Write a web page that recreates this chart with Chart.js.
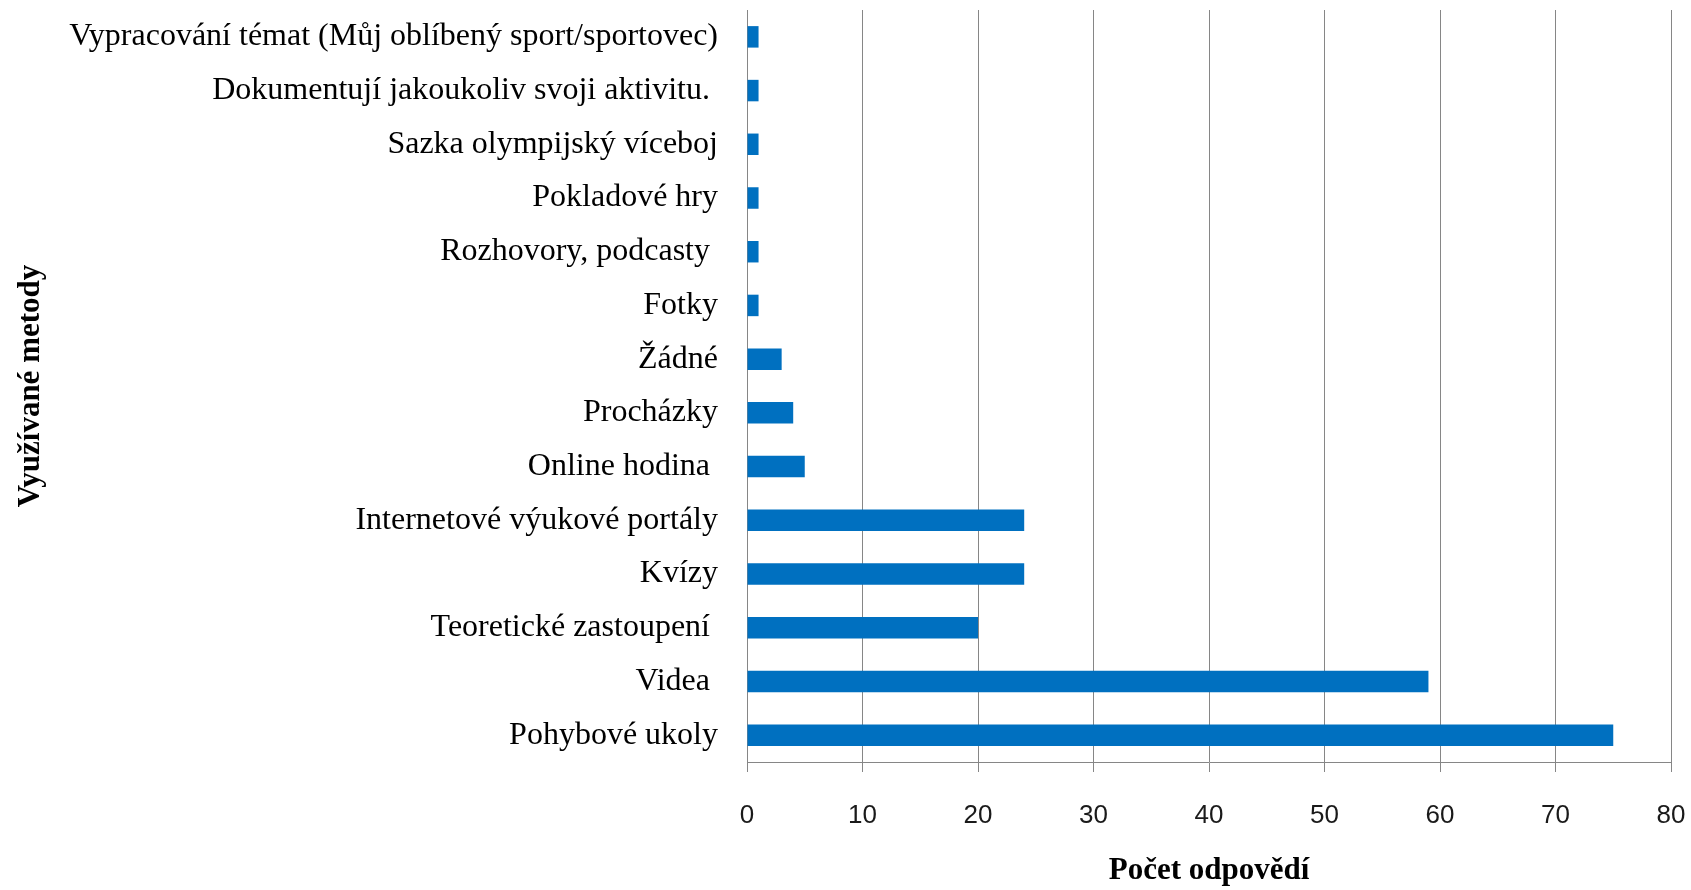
<!DOCTYPE html>
<html>
<head>
<meta charset="utf-8">
<script src="https://cdn.jsdelivr.net/npm/chart.js@4/dist/chart.umd.min.js"></script>
<style>
  html, body { margin: 0; padding: 0; background: #ffffff; }
  #wrap { width: 1691px; height: 890px; }
</style>
</head>
<body>
<div id="wrap"><canvas id="c" width="1691" height="890"></canvas></div>
<script>
const categories = [
  "Vypracování témat (Můj oblíbený sport/sportovec)",
  "Dokumentují jakoukoliv svoji aktivitu. ",
  "Sazka olympijský víceboj",
  "Pokladové hry",
  "Rozhovory, podcasty ",
  "Fotky",
  "Žádné",
  "Procházky",
  "Online hodina ",
  "Internetové výukové portály",
  "Kvízy",
  "Teoretické zastoupení ",
  "Videa ",
  "Pohybové ukoly"
];
const counts = [1, 1, 1, 1, 1, 1, 3, 4, 5, 24, 24, 20, 59, 75];
const xTickMin = 0;
const xTickMax = 80;
const xTickStep = 10;
const xTitle = "Počet odpovědí";
const yTitle = "Využívané metody";

const gridColor = "#868686";

new Chart(document.getElementById("c"), {
  type: "bar",
  data: {
    labels: categories,
    datasets: [{
      data: counts,
      backgroundColor: "#0070C0",
      borderWidth: 0,
      barPercentage: 0.4,
      categoryPercentage: 1.0
    }]
  },
  options: {
    indexAxis: "y",
    responsive: false,
    animation: false,
    devicePixelRatio: 1,
    layout: { padding: { top: 10, right: 20, bottom: 0, left: 0 } },
    plugins: { legend: { display: false }, tooltip: { enabled: false } },
    scales: {
      x: {
        min: xTickMin,
        max: xTickMax,
        ticks: {
          stepSize: xTickStep,
          color: "#1a1a1a",
          font: { family: "'Liberation Sans', Arial, sans-serif", size: 26 },
          padding: 28,
          maxRotation: 0
        },
        grid: {
          color: gridColor,
          lineWidth: 1,
          drawTicks: true,
          tickLength: 10,
          tickColor: gridColor
        },
        border: { display: true, color: gridColor, width: 1 },
        title: {
          display: true,
          text: xTitle,
          color: "#000",
          font: { family: "'Liberation Serif', 'Times New Roman', serif", size: 31, weight: "bold" },
          padding: { top: 0, bottom: 0 }
        },
        afterFit: function (scale) {
          scale.height = 128;
          scale.paddingLeft = 0;
          scale.paddingRight = 0;
        }
      },
      y: {
        ticks: {
          color: "#000",
          font: { family: "'Liberation Serif', 'Times New Roman', serif", size: 32 },
          padding: 29,
          autoSkip: false
        },
        grid: { display: true, color: "rgba(0,0,0,0)", drawTicks: false },
        border: { display: true, color: gridColor, width: 1 },
        title: {
          display: true,
          text: yTitle,
          color: "#000",
          font: { family: "'Liberation Serif', 'Times New Roman', serif", size: 31, weight: "bold" },
          padding: { top: 12, bottom: 0 }
        },
        afterFit: function (scale) {
          scale.width = 747;
          scale.paddingTop = 0;
          scale.paddingBottom = 0;
        }
      }
    }
  }
});
</script>
</body>
</html>
